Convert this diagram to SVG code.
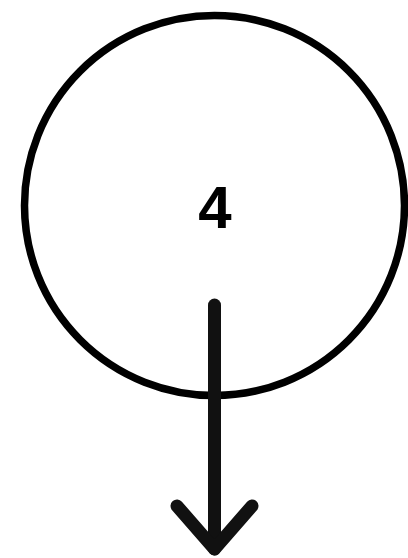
<svg xmlns="http://www.w3.org/2000/svg" width="408" height="558" viewBox="0 0 408 558">
<style>
.node{fill:none;stroke:#000;stroke-width:7.5}
.lbl{font-family:"Liberation Sans",Arial,sans-serif;font-weight:bold;font-size:60px;fill:#000;text-anchor:middle}
.conn{fill:none;stroke:#111;stroke-width:13;stroke-linecap:round;stroke-linejoin:round}
</style>
<rect width="408" height="558" fill="#fff"/>
<g id="node4">
<circle class="node" cx="214.5" cy="205.5" r="190"/>
<text class="lbl" x="215" y="228">4</text>
</g>
<g id="connectors">
<path class="conn" d="M214.5 305 V549"/>
<path class="conn" d="M177 506 L214.5 549 L252 506"/>
</g>
</svg>
